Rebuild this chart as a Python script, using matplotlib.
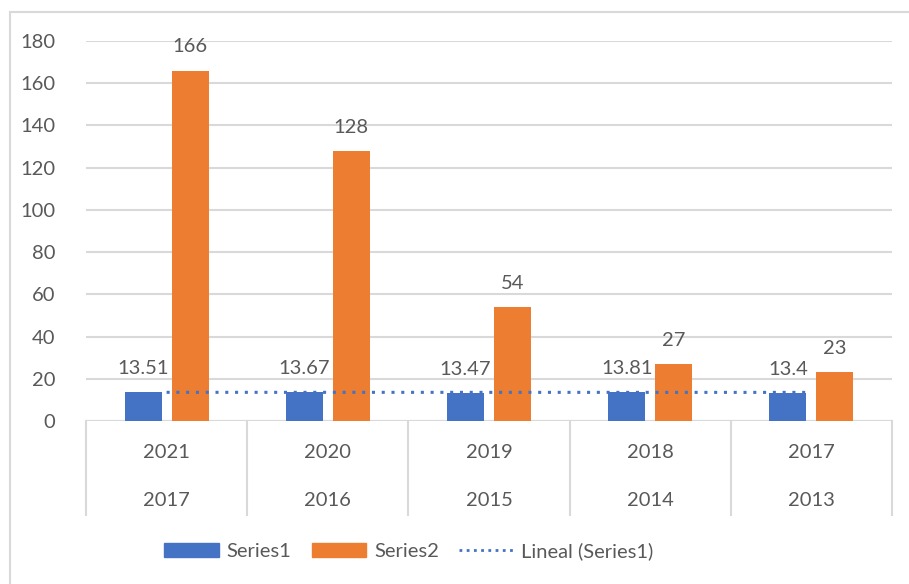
import numpy as np
import matplotlib.pyplot as plt
from matplotlib.lines import Line2D
from matplotlib.patches import Patch, Rectangle

plt.rcParams['font.family'] = ['Lato', 'DejaVu Sans']

# datos
years_top    = ['2021', '2020', '2019', '2018', '2017']
years_bottom = ['2017', '2016', '2015', '2014', '2013']
series1      = [13.51, 13.67, 13.47, 13.81, 13.4]
series2      = [166, 128, 54, 27, 23]
labels1      = ['13.51', '13.67', '13.47', '13.81', '13.4']

gray_txt  = '#595959'
grid_col  = '#d9d9d9'
blue      = '#4472c4'
orange    = '#ed7d31'
fs        = 14.5

fig = plt.figure(figsize=(9.09, 5.84), dpi=100)
ax  = fig.add_axes([86/909, 1-421/584, (892-86)/909, 380/584])

x = np.arange(len(years_top))
w = 0.23
off = 0.146
ax.bar(x - off, series1, w, color=blue, zorder=3)
ax.bar(x + off, series2, w, color=orange, zorder=3)

# linea de tendencia lineal (Series1)
coef = np.polyfit(x, series1, 1)
ax.plot(x, np.polyval(coef, x), linestyle=(0, (1, 2.2)), color=blue, lw=2.2, zorder=4)

for i in range(len(x)):
    ax.annotate(labels1[i], (x[i] - off, series1[i]), xytext=(0, 13),
                textcoords='offset points', ha='center', va='baseline',
                fontsize=fs, color=gray_txt, zorder=5)
    ax.annotate(str(series2[i]), (x[i] + off, series2[i]), xytext=(0, 13),
                textcoords='offset points', ha='center', va='baseline',
                fontsize=fs, color=gray_txt, zorder=5)

ax.set_xlim(-0.5, len(x) - 0.5)
ax.set_ylim(0, 180)
ax.set_yticks(range(0, 181, 20))
ax.tick_params(axis='y', length=0, labelsize=fs, labelcolor=gray_txt, pad=22)
ax.set_xticks([])
ax.grid(axis='y', color=grid_col, lw=1.5, zorder=0)
for s in ax.spines.values():
    s.set_visible(False)
ax.axhline(0, color=grid_col, lw=1.5, zorder=2)

# eje de categorias de dos niveles
for b in np.arange(-0.5, len(x), 1.0):
    ax.plot([b, b], [0, -94/380*180], color=grid_col, lw=1.5, clip_on=False)
for i in range(len(x)):
    ax.text(x[i], -32/380*180, years_top[i], ha='center', va='center',
            fontsize=fs, color=gray_txt)
    ax.text(x[i], -79/380*180, years_bottom[i], ha='center', va='center',
            fontsize=fs, color=gray_txt)

# borde del grafico
fig.patches.append(Rectangle((10/909, -0.1), 1.0, 1 - 12/584 + 0.1,
                             transform=fig.transFigure, fill=False,
                             edgecolor=grid_col, lw=1.5))

handles = [Patch(color=blue), Patch(color=orange),
           Line2D([], [], linestyle=(0, (1, 1.6)), color=blue, lw=2.0)]
fig.legend(handles, ['Series1', 'Series2', 'Lineal (Series1)'],
           loc='center', bbox_to_anchor=(409/909, 1 - 551/584), ncol=3,
           frameon=False, fontsize=fs, labelcolor=gray_txt,
           handlelength=2.7, handleheight=0.75, columnspacing=1.0, handletextpad=0.4)

fig.savefig('out.png', dpi=100)
